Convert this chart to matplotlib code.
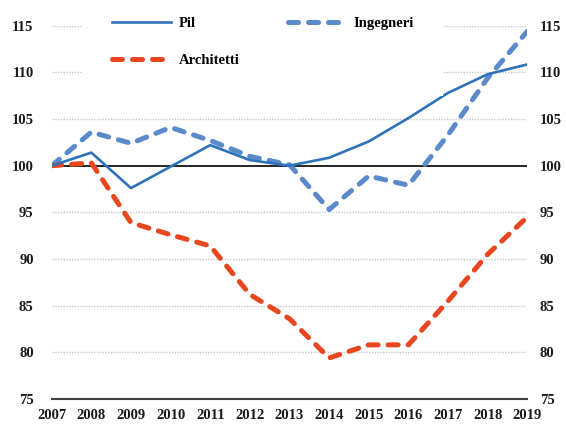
import matplotlib
matplotlib.use("Agg")
import matplotlib.pyplot as plt

years = [2007, 2008, 2009, 2010, 2011, 2012, 2013, 2014, 2015, 2016, 2017, 2018, 2019]
pil = [100.0, 101.4, 97.6, 99.9, 102.2, 100.6, 100.0, 100.85, 102.6, 105.1, 107.8, 109.8, 110.85]
ingegneri = [100.0, 103.6, 102.4, 104.1, 102.7, 101.0, 100.1, 95.3, 98.9, 97.9, 103.3, 109.4, 114.4]
architetti = [100.0, 100.3, 93.9, 92.6, 91.4, 86.2, 83.6, 79.4, 80.8, 80.8, 85.5, 90.5, 94.5]
yticks = [75, 80, 85, 90, 95, 100, 105, 110, 115]

plt.rcParams['font.family'] = ['Liberation Serif', 'DejaVu Serif']

fig = plt.figure(figsize=(5.66, 4.25), dpi=100)
ax = fig.add_axes([51.7/566, 1-399/425, (527.3-51.7)/566, (399-25.7)/425])

c_pil = '#2E73BA'
c_ing = '#5B8ACB'
c_arc = '#E8461F'

l_pil, = ax.plot(years, pil, color=c_pil, lw=1.9, label='Pil', zorder=4, solid_joinstyle='round')
l_ing, = ax.plot(years, ingegneri, color=c_ing, lw=3.6, label='Ingegneri', zorder=3,
                 dashes=(2.0, 2.0), dash_capstyle='round', dash_joinstyle='round')
l_arc, = ax.plot(years, architetti, color=c_arc, lw=3.6, label='Architetti', zorder=3,
                 dashes=(2.0, 2.0), dash_capstyle='round', dash_joinstyle='round')

ax.axhline(100, color='black', lw=1.2, zorder=2)
for v in yticks:
    if v not in (75, 100):
        ax.axhline(v, color='#C8C8C8', lw=1.0, ls=(0, (1, 1)), zorder=1)

ax.set_xlim(2007, 2019)
ax.set_ylim(75, 115)
ax.set_yticks(yticks)
ax.set_xticks(years)
ax.set_xticklabels([str(y) for y in years])
for s in ['top', 'right', 'left']:
    ax.spines[s].set_visible(False)
ax.spines['bottom'].set_color('#404040')
ax.spines['bottom'].set_linewidth(1.5)
ax.tick_params(axis='both', length=0, labelsize=10.5, colors='#1a1a1a')
ax.tick_params(axis='y', pad=13)
ax.tick_params(axis='x', pad=7)
for lab in ax.get_yticklabels() + ax.get_xticklabels():
    lab.set_fontweight('bold')

ax2 = ax.twinx()
ax2.set_ylim(75, 115)
ax2.set_yticks(yticks)
for s in ax2.spines.values():
    s.set_visible(False)
ax2.tick_params(axis='y', length=0, labelsize=10.5, colors='#1a1a1a', pad=9)
for lab in ax2.get_yticklabels():
    lab.set_fontweight('bold')

leg = ax2.legend(handles=[l_pil, l_arc, l_ing], ncol=2, loc='upper left',
                 bbox_to_anchor=(83/566, 1+12/425), bbox_transform=fig.transFigure,
                 frameon=True, facecolor='white', edgecolor='none', framealpha=1,
                 fancybox=False, borderpad=2.0, borderaxespad=0,
                 handlelength=4.0, handletextpad=0.55, columnspacing=3.3,
                 labelspacing=1.6, prop={'size': 10.5, 'weight': 'bold'})
leg.set_zorder(5)

fig.savefig('out.png', dpi=100)
